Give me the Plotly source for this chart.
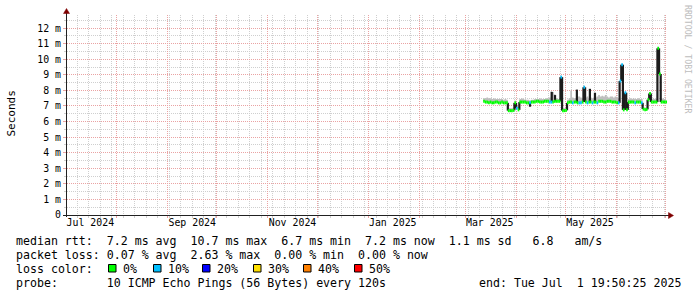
import pandas as pd
import plotly.graph_objects as go

# ---------------- data ----------------
range_start = "2024-07-01 19:50:25"
range_end = "2025-07-01 19:50:25"

# daily samples from 2025-03-12 to 2025-07-01 (112 days)
sample_dates = pd.date_range("2025-03-12", "2025-07-01", freq="D")

median_ms = [
    7.3, 7.25, 7.25, 7.2, 7.25, 7.2, 7.2, 7.25, 7.25, 7.2,
    7.2, 7.25, 7.2, 7.2, 7.2, 6.7, 6.7, 6.7, 6.72, 7.2,
    6.85, 6.75, 7.25, 7.25, 7.25, 7.25, 7.2, 7.2, 7.2, 7.25,
    7.25, 7.25, 7.3, 7.3, 7.25, 7.25, 7.25, 7.3, 7.3, 7.3,
    7.25, 7.25, 7.25, 7.3, 7.3, 7.3, 7.3, 8.85, 6.7, 6.7,
    6.72, 7.2, 7.25, 7.25, 7.2, 7.25, 7.25, 7.2, 7.2, 7.2,
    7.25, 8.2, 7.25, 7.2, 7.25, 7.25, 7.2, 7.25, 7.25, 7.2,
    7.3, 7.3, 7.3, 7.25, 7.25, 7.3, 7.3, 7.3, 7.25, 7.25,
    7.25, 7.2, 7.2, 8.6, 9.65, 6.75, 7.85, 6.75, 7.25, 7.25,
    7.25, 7.25, 7.2, 7.25, 7.25, 7.25, 7.2, 6.8, 6.75, 6.78,
    7.4, 7.8, 7.25, 7.25, 7.25, 7.25, 10.7, 9.05, 7.25, 7.25,
    7.25, 7.25,
]

smoke_top_ms = [
    7.5, 7.5, 7.55, 7.5, 7.5, 7.45, 7.5, 7.45, 7.45, 7.45,
    7.45, 7.45, 7.4, 7.45, 7.4, 6.85, 6.85, 6.85, 6.9, 7.35,
    7.0, 6.9, 7.45, 7.5, 7.45, 7.4, 7.4, 7.4, 7.35, 7.4,
    7.4, 7.45, 7.45, 7.45, 7.5, 7.45, 7.45, 7.45, 7.5, 7.5,
    7.55, 7.95, 7.9, 7.75, 7.5, 7.45, 7.45, 8.9, 6.85, 6.85,
    6.85, 7.4, 7.5, 8.0, 7.55, 7.5, 7.5, 7.6, 7.6, 7.55,
    7.5, 8.3, 7.55, 7.6, 7.5, 7.55, 7.5, 7.55, 7.55, 7.6,
    7.7, 7.6, 7.65, 7.6, 7.7, 7.6, 7.55, 7.6, 7.6, 7.55,
    7.6, 7.55, 7.5, 8.65, 9.7, 6.85, 7.9, 6.85, 7.45, 7.5,
    7.45, 7.5, 7.45, 7.45, 7.5, 7.45, 7.45, 6.9, 6.9, 6.9,
    7.55, 7.9, 7.45, 7.5, 7.45, 7.45, 10.8, 9.1, 7.45, 7.5,
    7.45, 7.45,
]

loss_pct = [0] * 112
for d in [21, 29, 41, 42, 48, 55, 59, 60, 62, 64, 67, 70, 83, 84, 85, 87, 93, 97]:
    loss_pct[d - 1] = 10

# dark smoke spikes (ms)
dark_dates = ["2025-04-09 12:00", "2025-04-22 17:00", "2025-04-24 17:00",
              "2025-05-08 00:00", "2025-05-15 22:00", "2025-05-19 00:00"]
dark_lo = [6.95, 7.25, 7.3, 7.2, 7.25, 7.25]
dark_hi = [7.2, 7.9, 7.7, 8.05, 8.1, 7.85]

month_label_dates = ["2024-07-16", "2024-09-16", "2024-11-16",
                     "2025-01-16", "2025-03-16", "2025-05-16"]
month_labels = ["Jul 2024", "Sep 2024", "Nov 2024", "Jan 2025", "Mar 2025", "May 2025"]

y_tick_vals = list(range(13))
y_tick_text = ["0"] + [f"{v} m" for v in range(1, 13)]

loss_names = ["0%", "10%", "20%", "30%", "40%", "50%"]
loss_colors = ["#00ff00", "#00bfff", "#0000ff", "#ffe000", "#ff8000", "#ff0000"]

stat_lines = [
    "median rtt:  7.2 ms avg  10.7 ms max  6.7 ms min  7.2 ms now  1.1 ms sd   6.8   am/s",
    "packet loss: 0.07 % avg  2.63 % max  0.00 % min  0.00 % now",
    "loss color:",
    "probe:       10 ICMP Echo Pings (56 Bytes) every 120s",
]
end_text = "end: Tue Jul  1 19:50:25 2025"

# ---------------- layout helpers ----------------
L, R, T, B = 67, 30, 15, 82
W = 697 - L - R
H = 297 - T - B
BOT = 297 - B


def px(x):
    return (x - L) / W


def py(y):
    return (BOT - y) / H


MONO = "DejaVu Sans Mono"
nb = lambda s: s.replace(" ", "\u00a0")

fig = go.Figure()

# smoke
fig.add_trace(go.Scatter(x=sample_dates, y=median_ms, mode="lines",
                         line=dict(width=0, shape="hv"), hoverinfo="skip", showlegend=False))
fig.add_trace(go.Scatter(x=sample_dates, y=smoke_top_ms, mode="lines",
                         line=dict(width=0, shape="hv"), fill="tonexty",
                         fillcolor="#bebebe", hoverinfo="skip", showlegend=False))

# dark verticals: transitions of median + dark smoke spikes
day = pd.Timedelta(days=1)
vx, vy = [], []
for i in range(1, len(median_ms)):
    a, b = median_ms[i - 1], median_ms[i]
    if abs(a - b) > 0.1:
        vx += [sample_dates[i], sample_dates[i], None]
        vy += [min(a, b), max(a, b), None]
for t, lo, hi in zip(dark_dates, dark_lo, dark_hi):
    vx += [pd.Timestamp(t), pd.Timestamp(t), None]
    vy += [lo, hi, None]
fig.add_trace(go.Scatter(x=vx, y=vy, mode="lines", line=dict(color="#1c1c1c", width=2.2),
                         hoverinfo="skip", showlegend=False))

# median colored by loss
for lvl, col in [(0, loss_colors[0]), (10, loss_colors[1])]:
    xs, ys = [], []
    for t, v, lp in zip(sample_dates, median_ms, loss_pct):
        if lp == lvl:
            xs += [t, t + day, None]
            ys += [v, v, None]
    fig.add_trace(go.Scatter(x=xs, y=ys, mode="lines", line=dict(color=col, width=3),
                             hoverinfo="skip", showlegend=False))

# dummy trace to activate label axis
fig.add_trace(go.Scatter(x=[month_label_dates[0]], y=[None], xaxis="x2", mode="markers",
                         hoverinfo="skip", showlegend=False))

MAJ = "#eaa3a3"
MIN = "#cfcfcf"
DASH = "1px,1px"

fig.update_layout(
    width=697, height=297, autosize=False,
    margin=dict(l=L, r=R, t=T, b=B, pad=0),
    paper_bgcolor="white", plot_bgcolor="white",
    showlegend=False,
    xaxis=dict(type="date", range=[range_start, range_end], tickmode="linear",
               tick0="2024-07-01", dtick="M1", showticklabels=False,
               showgrid=True, gridcolor=MAJ, griddash=DASH, gridwidth=1,
               ticks="outside", ticklen=2, tickcolor=MAJ,
               showline=False, zeroline=False, fixedrange=True,
               minor=dict(tick0="2024-07-01", dtick=7 * 86400000, showgrid=True,
                          gridcolor=MIN, griddash=DASH, ticks="outside", ticklen=2,
                          tickcolor=MIN)),
    xaxis2=dict(type="date", overlaying="x", anchor="y", side="bottom",
                range=[range_start, range_end], tickmode="array",
                tickvals=month_label_dates, ticktext=month_labels,
                showgrid=False, ticks="", showline=False, zeroline=False,
                tickfont=dict(family=MONO, size=9.9, color="#000000"), fixedrange=True),
    yaxis=dict(range=[0, 12.84], tickmode="array", tickvals=y_tick_vals,
               ticktext=y_tick_text, showgrid=True, gridcolor=MAJ, griddash=DASH,
               ticks="outside", ticklen=3, tickcolor=MAJ,
               tickfont=dict(family=MONO, size=9.9, color="#000000"),
               showline=False, zeroline=False, fixedrange=True,
               minor=dict(tickmode="array", tickvals=[i + 0.5 for i in range(13)],
                          showgrid=True, gridcolor=MIN, griddash=DASH,
                          ticks="outside", ticklen=2, tickcolor=MIN)),
)

shapes = []
AX = "#212121"
ARROW = "#7f0000"
# axis lines
shapes.append(dict(type="line", xref="paper", yref="paper", x0=px(63), x1=px(670),
                   y0=py(215.5), y1=py(215.5), line=dict(color=AX, width=1)))
shapes.append(dict(type="line", xref="paper", yref="paper", x0=px(66.5), x1=px(66.5),
                   y0=py(217), y1=py(12), line=dict(color=AX, width=1)))
# arrows
shapes.append(dict(type="path", xref="paper", yref="paper",
                   path=f"M {px(673.5)} {py(215.5)} L {px(668.5)} {py(212.5)} L {px(668.5)} {py(218.5)} Z",
                   fillcolor=ARROW, line=dict(color=ARROW, width=0.5)))
shapes.append(dict(type="path", xref="paper", yref="paper",
                   path=f"M {px(66.5)} {py(8.5)} L {px(63.5)} {py(13.5)} L {px(69.5)} {py(13.5)} Z",
                   fillcolor=ARROW, line=dict(color=ARROW, width=0.5)))

# legend swatches
swatch_x = [108, 153, 202, 253, 303, 354]
annotations = []
for sx, col, name in zip(swatch_x, loss_colors, loss_names):
    shapes.append(dict(type="rect", xref="paper", yref="paper",
                       x0=px(sx + 0.5), x1=px(sx + 8), y0=py(272), y1=py(264.5),
                       fillcolor=col, line=dict(color="#000000", width=1)))
    annotations.append(dict(text=name, xref="paper", yref="paper", x=px(sx + 15), y=py(268.5),
                            xanchor="left", yanchor="middle", showarrow=False,
                            borderpad=0, borderwidth=0,
                            font=dict(family=MONO, size=11.6, color="#000000")))

line_y = [241, 255, 268.5, 283]
for txt, ly in zip(stat_lines, line_y):
    annotations.append(dict(text=nb(txt), xref="paper", yref="paper", x=px(16), y=py(ly),
                            xanchor="left", yanchor="middle", showarrow=False,
                            borderpad=0, borderwidth=0,
                            font=dict(family=MONO, size=11.6, color="#000000")))
annotations.append(dict(text=nb(end_text), xref="paper", yref="paper", x=px(681), y=py(283),
                        xanchor="right", yanchor="middle", showarrow=False,
                        borderpad=0, borderwidth=0,
                        font=dict(family=MONO, size=11.6, color="#000000")))
annotations.append(dict(text="Seconds", xref="paper", yref="paper", x=px(10.5), y=py(114),
                        xanchor="center", yanchor="middle", textangle=-90, showarrow=False,
                        borderpad=0, borderwidth=0,
                        font=dict(family=MONO, size=11, color="#000000")))
annotations.append(dict(text=nb("RRDTOOL / TOBI OETIKER"), xref="paper", yref="paper",
                        x=px(688), y=py(59), xanchor="center", yanchor="middle",
                        textangle=90, showarrow=False, borderpad=0, borderwidth=0,
                        font=dict(family=MONO, size=8.2, color="#bdbdbd")))

fig.update_layout(shapes=shapes, annotations=annotations)
fig.write_html("out.html", config={"displayModeBar": False})
